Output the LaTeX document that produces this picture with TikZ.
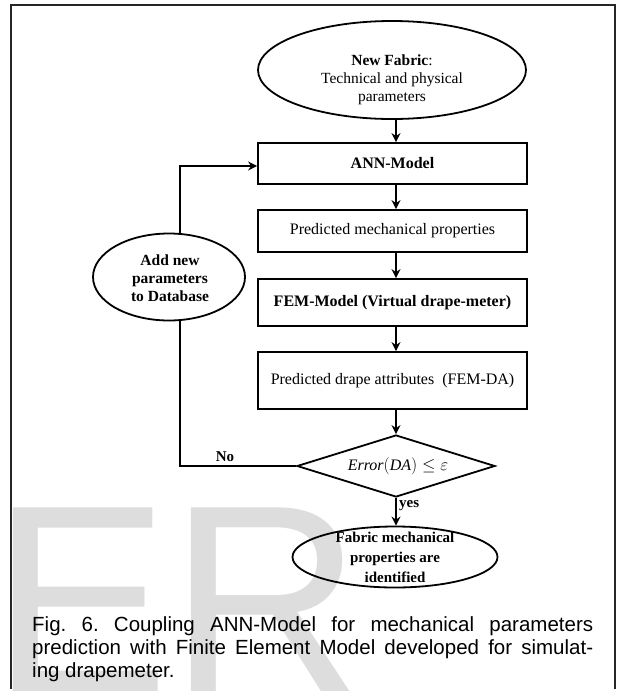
\documentclass[tikz,border=0pt]{standalone}
\usepackage{fontspec}
\setmainfont{Liberation Serif}
\newfontfamily\capfont{Liberation Sans}
\usetikzlibrary{shapes.geometric,arrows.meta}
\definecolor{wmgray}{RGB}{221,221,221}
\frenchspacing
\tikzset{
  boxnode/.style={draw, line width=1.8pt, rectangle, minimum width=269pt, inner sep=0pt,
    font=\fontsize{16}{18}\selectfont},
  ellnode/.style={draw, line width=1.8pt, ellipse, inner sep=0pt},
  ltext/.style={align=center, inner sep=0pt, font=\fontsize{15.5}{18}\selectfont},
  conn/.style={line width=1.5pt},
  arr/.style={line width=1.5pt, -{Stealth[length=9pt,width=9pt,inset=3pt]}},
  capline/.style={anchor=base west, inner sep=0pt, font=\capfont\fontsize{20.5}{23}\selectfont}
}
\begin{document}
\begin{tikzpicture}[x=1pt,y=-1pt]
\useasboundingbox (0,0) rectangle (618,694);
% watermark
\begin{scope}
  \clip (0,0) rectangle (618,694);
  \node[anchor=base west, inner sep=0pt, text=wmgray,
        font=\capfont\fontsize{267}{267}\selectfont] (wm) at (-9,691) {ER};
\end{scope}
% frame
\draw[line width=2pt, black!85] (11,689) -- (11,5) -- (615,5) -- (615,689);

% nodes
\node[ellnode, minimum width=268pt, minimum height=98pt] (nf) at (392,70) {};
\node[ltext] (nftext) at (392,80) {\textbf{New Fabric}:\\Technical and physical\\parameters};

\node[boxnode, minimum height=41pt] (ann) at (392.5,163.5) {\textbf{ANN-Model}};
\node[boxnode, minimum height=42pt] (pmp) at (392.5,231) {Predicted mechanical properties};
\node[boxnode, minimum height=47pt] (fem) at (392.5,302.5) {\textbf{FEM-Model (Virtual drape-meter)}};
\node[boxnode, minimum height=57pt] (pda) at (392.5,380.5) {Predicted drape attributes\ \ (FEM-DA)};

\node[draw, line width=1.8pt, diamond, minimum width=198pt, minimum height=62pt, inner sep=0pt] (dec) at (396,466) {};
\node[inner sep=0pt, font=\fontsize{16}{18}\selectfont] (dectext) at (398,466)
  {\textit{Error}$\bigl($\textit{DA}$\bigr)\leq\varepsilon$};

\node[ellnode, minimum width=205pt, minimum height=61pt] (fin) at (395,557) {};
\node[ltext, font=\bfseries\fontsize{15}{20}\selectfont] (fintext) at (395,557)
  {Fabric mechanical\\properties are\\identified};

\node[ellnode, minimum width=152pt, minimum height=87pt] (add) at (169,277) {};
\node[ltext, font=\bfseries\fontsize{15.5}{18}\selectfont] (addtext) at (170,278)
  {Add new\\parameters\\to Database};

\node[inner sep=0pt, font=\bfseries\fontsize{15}{18}\selectfont] (no) at (225,457) {No};
\node[anchor=west, inner sep=0pt, font=\bfseries\fontsize{15}{18}\selectfont] (yes) at (399,506) {yes};

\coordinate (jt) at (180,166);
\coordinate (jb) at (180,466);

% connectors
\draw[arr] (nf.south -| dec.north) -- (ann.north -| dec.north);
\draw[arr] (ann.south -| dec.north) -- (pmp.north -| dec.north);
\draw[arr] (pmp.south -| dec.north) -- (fem.north -| dec.north);
\draw[arr] (fem.south -| dec.north) -- (pda.north -| dec.north);
\draw[arr] (pda.south -| dec.north) -- (dec.north);
\draw[arr] (dec.south) -- (dec.south |- fin.north);
\draw[conn] (dec.west) -- (jb) -- (add.south -| jb);
\draw[arr] (add.north -| jt) -- (jt) -- (ann.west |- jt);

% caption
\node[capline] (cap1) at (32,631) {\makebox[561pt][s]{Fig. 6. Coupling ANN-Model for mechanical parameters}};
\node[capline] (cap2) at (32,654) {\makebox[561pt][s]{prediction with Finite Element Model developed for simulat-}};
\node[capline] (cap3) at (32,677) {ing drapemeter.};
\end{tikzpicture}
\end{document}
